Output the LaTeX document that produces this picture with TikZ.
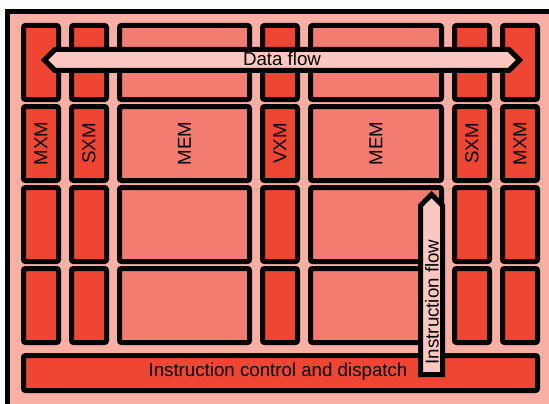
\documentclass[tikz,border=0pt]{standalone}
\usepackage{fontspec}
\setmainfont{Liberation Sans}
\definecolor{bgpink}{HTML}{F9AFA3}
\definecolor{unitred}{HTML}{EF4533}
\definecolor{memsalmon}{HTML}{F27C70}
\definecolor{flowpink}{HTML}{FAC8C1}
\begin{document}
\begin{tikzpicture}[x=1pt,y=-1pt,
  unit/.style={draw=black, line width=5pt, rounded corners=2pt, fill=unitred, inner sep=0pt,
    font=\fontsize{18.7}{20}\selectfont},
  narrow/.style={unit, minimum width=35pt, minimum height=74pt},
  memblk/.style={unit, fill=memsalmon, minimum height=74pt},
  flow/.style={draw=black, line width=5pt, line join=miter, fill=flowpink},
  lbl/.style={font=\fontsize{18.7}{20}\selectfont, inner sep=0pt}]
\useasboundingbox (0,0) rectangle (549,404);
\clip (0,0) rectangle (549,404);
% outer frame
\draw[line width=5pt, fill=bgpink] (7.5,11.5) rectangle (600,450);
% rows: centres
\foreach \r/\y in {1/62.5,2/143.5,3/224.5,4/305.5} {
  \node[narrow] (a\r) at (41,\y) {};
  \node[narrow] (b\r) at (89,\y) {};
  \node[memblk, minimum width=130pt] (c\r) at (184.5,\y) {};
  \node[narrow] (d\r) at (280,\y) {};
  \node[memblk, minimum width=131pt] (e\r) at (376,\y) {};
  \node[narrow] (f\r) at (472,\y) {};
  \node[narrow] (g\r) at (520,\y) {};
}
\node[lbl, rotate=90] (la) at (a2) {MXM};
\node[lbl, rotate=90] (lb) at (b2) {SXM};
\node[lbl, rotate=90] (lc) at (c2) {MEM};
\node[lbl, rotate=90] (ld) at (d2) {VXM};
\node[lbl, rotate=90] (le) at (e2) {MEM};
\node[lbl, rotate=90] (lf) at (f2) {SXM};
\node[lbl, rotate=90] (lg) at (g2) {MXM};
% instruction control bar
\node[unit, minimum width=514pt, minimum height=35pt] (bar) at (280.5,373) {};
\node[lbl] (barl) at (278,372) {Instruction control and dispatch};
% data flow arrow
\draw[flow] (44.5,60) -- (55,49.5) -- (509,49.5) -- (519.5,60) -- (509,70.5) -- (55,70.5) -- cycle;
\node[lbl] (df) at (282,59) {Data flow};
% instruction flow arrow
\draw[flow] (431.5,194.5) -- (442.5,205.5) -- (442.5,374.5) -- (420.5,374.5) -- (420.5,205.5) -- cycle;
\node[lbl, rotate=90] (inf) at (432,302) {Instruction flow};
\end{tikzpicture}
\end{document}
